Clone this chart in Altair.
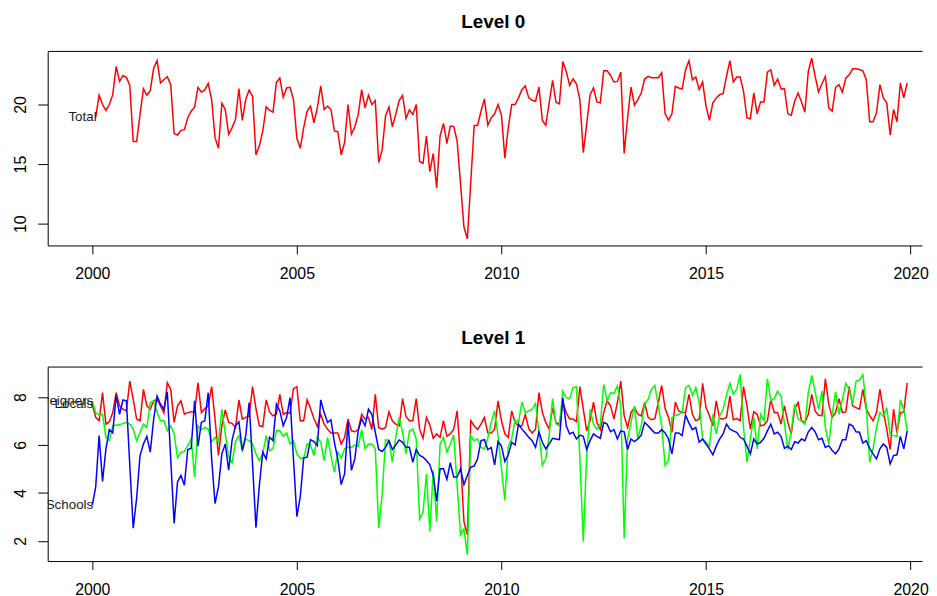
import altair as alt
import pandas as pd

# ---- data ----
# Level 0 series, monthly from Feb 2000 to Dec 2019
TOTAL = [18.94, 20.78, 20.0, 19.5, 20.0, 20.83, 23.19, 21.94, 22.44, 22.28,
         21.61, 16.89, 16.89, 19.17, 21.33, 20.78, 21.17, 23.06, 23.69, 21.81,
         22.08, 22.33, 21.67, 17.56, 17.44, 17.83, 17.89, 18.89, 19.44, 19.78,
         21.44, 21.03, 21.25, 21.78, 20.42, 17.22, 16.33, 20.11, 19.58, 17.5,
         18.06, 18.75, 21.33, 18.67, 20.42, 21.22, 20.69, 15.78, 16.53, 17.78,
         19.81, 19.5, 19.36, 21.86, 22.22, 20.61, 21.39, 21.44, 20.42, 17.17,
         16.33, 18.06, 19.44, 19.86, 18.47, 19.72, 21.56, 19.58, 19.86, 19.58,
         17.78, 17.72, 15.78, 16.81, 20.0, 17.5, 18.14, 19.17, 21.25, 19.72,
         20.78, 20.0, 20.33, 15.14, 16.17, 19.03, 19.78, 18.14, 19.17, 20.33,
         20.78, 18.83, 19.56, 19.17, 20.0, 15.22, 15.06, 17.36, 14.36, 15.89,
         13.0, 17.36, 18.42, 16.72, 18.19, 18.17, 16.94, 13.33, 9.72, 8.72,
         13.47, 18.25, 18.25, 19.44, 20.47, 18.25, 18.89, 19.22, 20.0, 19.11,
         15.5, 18.06, 20.0, 20.0, 20.56, 21.25, 21.58, 20.56, 20.36, 20.28,
         21.47, 18.67, 18.25, 20.14, 22.03, 20.19, 20.06, 23.61, 22.78, 21.61,
         22.17, 21.72, 20.42, 15.97, 18.33, 20.83, 21.39, 20.22, 20.14, 22.83,
         22.83, 22.44, 21.89, 21.94, 22.72, 15.89, 18.89, 21.47, 19.94, 20.42,
         20.97, 22.14, 22.36, 22.25, 22.25, 22.25, 22.67, 19.22, 18.69, 19.22,
         21.53, 21.39, 21.31, 22.92, 23.67, 22.08, 22.31, 21.25, 21.89, 19.86,
         18.67, 20.14, 20.56, 20.83, 20.92, 22.36, 23.69, 21.89, 22.31, 22.31,
         21.11, 18.89, 18.81, 20.97, 19.22, 20.22, 20.22, 22.72, 22.92, 21.61,
         22.14, 21.31, 21.33, 19.22, 19.11, 20.28, 20.97, 20.22, 19.36, 22.78,
         23.89, 22.36, 21.06, 21.75, 22.36, 19.72, 19.44, 21.44, 21.67, 21.03,
         22.22, 22.5, 23.0, 23.0, 22.94, 22.83, 22.08, 18.56, 18.56, 19.31,
         21.67, 20.56, 20.14, 17.44, 19.58, 18.56, 21.81, 20.56, 21.81]

# Level 1 series, monthly from Jan 2000 to Dec 2019
LOCALS = [7.70, 7.15, 7.01, 8.18, 6.87, 6.97, 7.35, 8.18, 7.63, 7.49,
          7.42, 8.66, 7.9, 7.08, 7.01, 8.32, 7.63, 7.49, 7.84, 7.9,
          7.63, 7.33, 8.59, 8.32, 6.94, 7.63, 7.84, 7.28, 7.35, 7.38,
          7.38, 8.59, 7.35, 7.52, 7.63, 8.43, 7.08, 5.56, 6.8, 7.46,
          6.94, 6.9, 6.72, 7.88, 7.08, 7.15, 7.21, 8.43, 7.52, 6.8,
          6.77, 7.88, 7.38, 7.21, 7.28, 8.11, 7.28, 7.35, 7.32, 8.35,
          8.43, 7.01, 7.01, 7.88, 7.52, 7.1, 6.77, 7.28, 6.87, 6.66,
          6.5, 6.5, 6.5, 6.04, 6.32, 7.08, 6.59, 6.55, 6.64, 7.28,
          7.08, 7.15, 6.64, 8.11, 6.73, 6.66, 6.73, 7.38, 7.01, 6.87,
          6.8, 7.93, 7.19, 7.01, 7.01, 7.93, 6.66, 6.28, 7.15, 6.83,
          6.28, 6.46, 6.32, 7.01, 6.36, 6.46, 6.66, 7.42, 5.42, 2.8,
          2.25, 7.01, 6.8, 6.64, 6.87, 7.15, 6.5, 6.5, 6.66, 7.84,
          7.01, 6.46, 6.32, 7.42, 6.94, 6.8, 6.8, 7.28, 6.69, 6.5,
          6.66, 8.18, 7.35, 6.94, 6.66, 7.56, 6.94, 6.87, 7.79, 7.35,
          7.08, 7.08, 6.97, 8.43, 7.49, 6.59, 7.01, 7.79, 6.94, 6.64,
          7.35, 7.84, 7.63, 7.08, 7.77, 8.66, 7.21, 6.73, 7.35, 7.56,
          7.28, 7.21, 7.77, 7.15, 7.05, 7.1, 7.77, 8.48, 7.52, 7.15,
          6.53, 7.79, 7.42, 7.35, 7.35, 8.11, 7.28, 7.01, 7.08, 8.57,
          7.56, 7.22, 6.80, 7.84, 7.10, 7.08, 7.15, 8.04, 7.05, 7.10,
          7.01, 8.43, 7.63, 6.66, 7.38, 7.28, 6.80, 6.83, 7.01, 7.90,
          7.35, 7.35, 6.87, 7.63, 6.94, 6.46, 7.49, 7.77, 7.01, 6.94,
          7.28, 8.11, 7.42, 7.24, 7.22, 8.76, 7.70, 7.15, 7.35, 7.93,
          7.35, 7.38, 8.43, 7.63, 7.56, 7.49, 8.32, 7.49, 7.22, 7.01,
          7.35, 8.32, 7.42, 6.66, 5.81, 7.49, 6.50, 7.35, 7.38, 8.59]

FOREIGNERS = [7.84, 7.35, 7.24, 7.28, 6.32, 6.18, 6.8, 6.83, 6.84, 6.9,
              6.94, 6.87, 6.66, 6.18, 6.53, 6.87, 6.73, 7.77, 7.84, 7.35,
              7.01, 7.01, 6.59, 6.8, 6.46, 5.46, 5.7, 5.73, 5.97, 6.25,
              4.66, 6.8, 6.64, 6.73, 6.66, 6.14, 6.32, 6.11, 7.49, 6.46,
              5.5, 5.25, 6.15, 6.39, 5.77, 6.25, 6.18, 6.04, 5.63, 5.35,
              5.63, 6.39, 5.77, 5.86, 6.59, 6.59, 6.36, 6.5, 6.04, 6.18,
              5.63, 5.45, 5.45, 6.04, 6.0, 5.56, 6.32, 6.11, 5.35, 6.32,
              5.56, 4.87, 5.7, 5.45, 5.84, 5.9, 5.9, 6.0, 5.95, 6.64,
              5.84, 6.04, 6.04, 5.84, 2.53, 3.9, 6.22, 6.18, 5.28, 6.32,
              7.15, 6.53, 5.63, 6.59, 6.66, 6.25, 2.91, 3.19, 4.8, 2.39,
              4.94, 2.8, 6.04, 6.32, 5.7, 6.04, 6.41, 4.32, 2.25, 2.5,
              1.42, 6.39, 6.18, 6.25, 5.90, 5.84, 6.28, 6.94, 7.42, 6.39,
              5.01, 3.70, 5.95, 6.25, 7.04, 6.94, 7.79, 7.35, 7.42, 7.49,
              7.73, 6.53, 5.15, 5.42, 6.39, 7.93, 6.87, 6.80, 8.25, 7.97,
              7.93, 8.39, 8.43, 5.42, 1.97, 5.56, 7.49, 6.87, 6.66, 6.87,
              8.53, 7.84, 8.18, 8.15, 8.46, 7.63, 2.11, 6.25, 6.94, 7.63,
              6.25, 6.80, 7.70, 7.90, 8.32, 8.48, 7.63, 6.80, 5.15, 5.35,
              7.15, 7.22, 7.28, 7.35, 8.39, 8.48, 8.07, 8.39, 7.77, 6.25,
              6.11, 5.95, 7.28, 6.46, 7.22, 7.49, 8.07, 8.57, 8.11, 8.32,
              8.94, 6.73, 5.28, 6.25, 7.15, 5.84, 7.28, 7.01, 8.76, 7.84,
              7.93, 8.25, 8.04, 6.87, 5.81, 6.59, 7.70, 7.08, 7.01, 6.87,
              8.18, 8.90, 8.21, 7.49, 8.25, 6.73, 6.04, 7.28, 8.21, 7.28,
              7.90, 8.57, 8.32, 7.70, 8.66, 8.70, 8.94, 7.63, 5.28, 5.84,
              6.73, 7.35, 7.19, 7.56, 6.42, 6.39, 6.36, 7.88, 7.49, 6.59]

SCHOOLS = [3.49, 4.25, 6.39, 4.48, 5.84, 6.64, 6.5, 8.07, 7.28, 7.88,
           7.84, 5.15, 2.53, 3.77, 5.56, 6.04, 6.36, 5.7, 7.08, 8.04,
           7.70, 7.49, 8.21, 5.42, 2.73, 4.46, 4.73, 4.32, 5.81, 5.86,
           7.84, 5.95, 6.94, 7.01, 8.18, 5.42, 3.56, 4.25, 5.63, 6.04,
           4.95, 6.2, 6.8, 6.97, 5.77, 6.39, 7.77, 5.2, 2.55, 4.32,
           5.7, 5.42, 6.32, 6.18, 7.70, 7.42, 6.8, 7.15, 7.97, 5.42,
           3.01, 3.84, 5.46, 5.49, 6.22, 6.14, 5.97, 7.88, 7.35, 6.94,
           7.05, 6.11, 5.42, 4.35, 4.8, 6.94, 4.94, 5.42, 6.6, 7.1,
           6.8, 7.49, 7.28, 6.53, 5.81, 5.73, 5.9, 6.18, 5.81, 6.0,
           6.21, 6.11, 5.9, 5.9, 5.28, 5.81, 5.56, 5.49, 5.35, 5.17,
           4.73, 3.66, 5.01, 5.01, 4.57, 5.26, 4.66, 4.66, 5.01, 4.35,
           4.73, 5.08, 5.12, 5.42, 6.18, 6.22, 5.81, 5.9, 5.17, 6.14,
           5.95, 5.31, 5.59, 6.11, 6.0, 6.87, 6.66, 6.5, 6.32, 6.18,
           5.9, 6.55, 6.11, 5.84, 6.04, 6.28, 6.25, 6.22, 7.97, 6.8,
           6.46, 6.53, 6.25, 6.41, 6.36, 5.81, 6.18, 6.46, 6.36, 6.28,
           6.94, 6.87, 6.55, 6.64, 6.25, 6.59, 6.55, 5.81, 6.25, 6.14,
           6.25, 6.41, 6.94, 6.8, 6.64, 6.5, 6.5, 6.64, 6.5, 6.25,
           5.63, 6.5, 6.5, 6.39, 7.24, 6.91, 6.64, 6.73, 6.11, 6.25,
           6.04, 5.84, 5.59, 5.95, 6.25, 6.46, 6.87, 6.66, 6.59, 6.53,
           6.32, 6.25, 5.95, 5.63, 6.25, 6.04, 6.11, 6.28, 6.59, 6.87,
           6.46, 6.53, 6.36, 5.86, 5.95, 5.81, 6.14, 6.08, 6.25, 6.18,
           6.55, 6.73, 6.55, 6.22, 6.28, 5.90, 5.97, 5.77, 5.63, 5.84,
           6.22, 6.22, 6.87, 6.80, 6.55, 6.53, 6.08, 6.18, 5.86, 5.63,
           5.42, 5.84, 6.04, 5.90, 5.21, 5.56, 5.59, 6.36, 5.84, 6.59]

YEAR_TICKS = [2000, 2005, 2010, 2015, 2020]
TOP_TICKS = [10, 15, 20]
BOTTOM_TICKS = [2, 4, 6, 8]
FONT = "Liberation Sans"
X_DOMAIN = [1998.91, 2020.28]


def frame(values, start_month, name):
    return pd.DataFrame({
        "t": [2000 + (start_month + i) / 12 for i in range(len(values))],
        "v": values,
        "name": name,
    })


df_total = frame(TOTAL, 1, "Total")
df_loc = frame(LOCALS, 0, "Locals")
df_for = frame(FOREIGNERS, 0, "Foreigners")
df_sch = frame(SCHOOLS, 0, "Schools")

x_scale = alt.Scale(domain=X_DOMAIN, nice=False, zero=False)

x_bottom = alt.X(
    "t:Q", scale=x_scale,
    axis=alt.Axis(values=YEAR_TICKS, format="d", title=None, grid=False,
                  domain=True, domainColor="black", domainWidth=1,
                  tickSize=8.5, tickColor="black", tickWidth=1,
                  labelFontSize=16, labelFont=FONT, labelColor="black",
                  labelPadding=12, labelFlush=False, labelOverlap=False,
                  minExtent=40, maxExtent=40),
)

# top border of the box (no ticks, no labels)
x_top = alt.X(
    "t:Q", scale=x_scale,
    axis=alt.Axis(orient="top", title=None, grid=False, domain=True,
                  domainColor="black", domainWidth=1, ticks=False,
                  labels=False, minExtent=0, maxExtent=0),
)

x_plain = alt.X("t:Q", scale=x_scale, axis=None)


def y_enc(domain, ticks):
    return alt.Y(
        "v:Q",
        scale=alt.Scale(domain=domain, nice=False, zero=False),
        axis=alt.Axis(values=ticks, title=None, grid=False, domain=True,
                      domainColor="black", domainWidth=1,
                      tickSize=10, tickColor="black", tickWidth=1,
                      labelAngle=270, labelAlign="center",
                      labelBaseline="alphabetic", labelPadding=12,
                      labelFontSize=16, labelFont=FONT, labelColor="black",
                      labelOverlap=False, minExtent=40, maxExtent=40),
    )


def title(text):
    return alt.TitleParams(text=text, fontSize=19, fontWeight="bold",
                           font=FONT, color="black", anchor="middle",
                           frame="group", offset=4, dx=8.5,
                           baseline="alphabetic")


def line(df, color, x, y):
    return alt.Chart(df).mark_line(color=color, strokeWidth=1.5).encode(
        x=x, y=y)


def label(dfs, y):
    first = pd.concat([d.iloc[[0]] for d in dfs], ignore_index=True)
    return alt.Chart(first).mark_text(
        align="right", baseline="middle", fontSize=13.5, font=FONT,
        color="#1a1a1a", clip=True, dx=1).encode(x=x_top, y=y, text="name:N")


y_top = y_enc([8.17, 24.5], TOP_TICKS)
y_bot = y_enc([1.16, 9.27], BOTTOM_TICKS)

top = alt.layer(
    line(df_total, "#FF0000", x_bottom, y_top),
    label([df_total], y_top),
).resolve_axis(x="independent").properties(
    width=881, height=196, title=title("Level 0"))

bottom = alt.layer(
    line(df_loc, "#FF0000", x_bottom, y_bot),
    line(df_for, "#00FF00", x_plain, y_bot),
    line(df_sch, "#0000FF", x_plain, y_bot),
    label([df_for, df_loc, df_sch], y_bot),
).resolve_axis(x="independent").properties(
    width=881, height=196, title=title("Level 1"))

chart = alt.vconcat(top, bottom, spacing=44).properties(
    padding={"left": 0, "top": 3, "right": 0, "bottom": 0},
    background="white",
).configure_view(stroke=None)

chart.save("out.html", embed_options={"renderer": "svg", "actions": False})
